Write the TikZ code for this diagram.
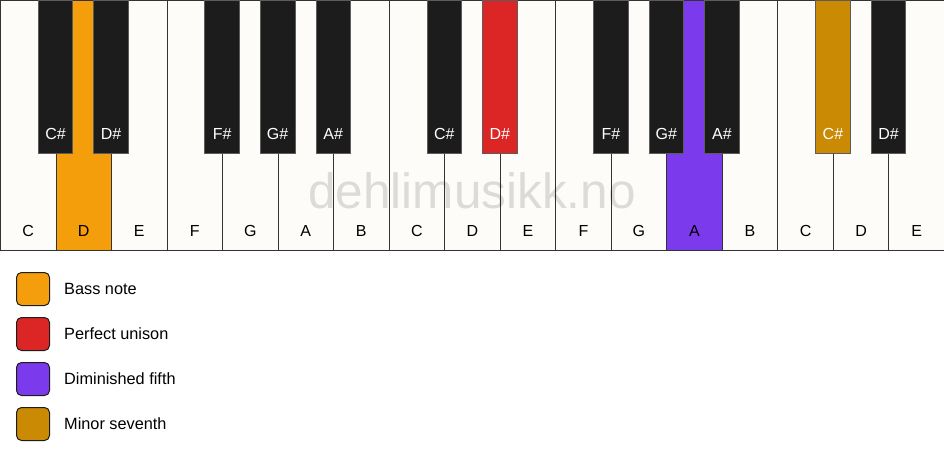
\documentclass[tikz,border=0pt]{standalone}
\usepackage{fontspec}
\setmainfont{Liberation Sans}
\usepackage{tikz}
\usetikzlibrary{positioning,calc}

\definecolor{keywhite}{HTML}{FDFCF8}
\definecolor{keyblack}{HTML}{1C1C1C}
\definecolor{keyline}{HTML}{333333}
\definecolor{bassorange}{HTML}{F59E0B}
\definecolor{unisonred}{HTML}{DC2626}
\definecolor{fifthpurple}{HTML}{7C3AED}
\definecolor{seventhgold}{HTML}{CA8A04}

\tikzset{
  whitekey/.style={draw=keyline, line width=0.7pt, fill=keywhite, minimum width=55.53pt,
    minimum height=250pt, inner sep=0pt, anchor=north west},
  blackkey/.style={draw=keyline!80, line width=0.8pt, fill=keyblack, minimum width=34.5pt,
    minimum height=153pt, inner sep=0pt, anchor=north},
  keyname/.style={font=\fontsize{16}{19}\selectfont, inner sep=0pt},
  swatch/.style={draw=keyblack, line width=1pt, rounded corners=5pt, minimum size=33pt, inner sep=0pt},
  legendtext/.style={font=\fontsize{16.3}{19}\selectfont, anchor=west, inner sep=0pt}
}

\begin{document}
\begin{tikzpicture}[x=1pt,y=1pt]
    \useasboundingbox (0,0) rectangle (944,461);
    \fill[white] (0,0) rectangle (944,461);

    % White keys
    \foreach \name [count=\i from 0] in {C,D,E,F,G,A,B,C,D,E,F,G,A,B,C,D,E} {
        \node[whitekey] (w\i) at (\i*55.53,461) {};
        \node[keyname] (wl\i) at ($(w\i.south)+(0,20)$) {\name};
    }

    % Highlighted white keys
    \node[whitekey, fill=bassorange] (w1) at (1*55.53,461) {};
    \node[keyname] at ($(w1.south)+(0,20)$) {D};
    \node[whitekey, fill=fifthpurple] (w12) at (12*55.53,461) {};
    \node[keyname] at ($(w12.south)+(0,20)$) {A};

    % Watermark
    \node[text=black, opacity=0.13, font=\fontsize{49.5}{54}\selectfont] (mark) at (472,270) {dehlimusikk.no};

    % Black keys
    \foreach \b/\name/\col in {1/C\#/keyblack, 2/D\#/keyblack, 4/F\#/keyblack, 5/G\#/keyblack,
                              6/A\#/keyblack, 8/C\#/keyblack, 9/D\#/unisonred, 11/F\#/keyblack,
                              12/G\#/keyblack, 13/A\#/keyblack, 15/C\#/seventhgold, 16/D\#/keyblack} {
        \node[blackkey, fill=\col] (b\b) at (\b*55.53,461) {};
        \node[keyname, text=white] (bl\b) at ($(b\b.south)+(0,20)$) {\name};
    }

    % Legend
    \node[swatch, fill=bassorange] (bass) at (33,172) {};
    \node[legendtext, right=14pt of bass] (basstext) {Bass note};
    \node[swatch, fill=unisonred, below=11pt of bass] (unison) {};
    \node[legendtext, right=14pt of unison] (unisontext) {Perfect unison};
    \node[swatch, fill=fifthpurple, below=11pt of unison] (fifth) {};
    \node[legendtext, right=14pt of fifth] (fifthtext) {Diminished fifth};
    \node[swatch, fill=seventhgold, below=11pt of fifth] (seventh) {};
    \node[legendtext, right=14pt of seventh] (seventhtext) {Minor seventh};
\end{tikzpicture}
\end{document}
